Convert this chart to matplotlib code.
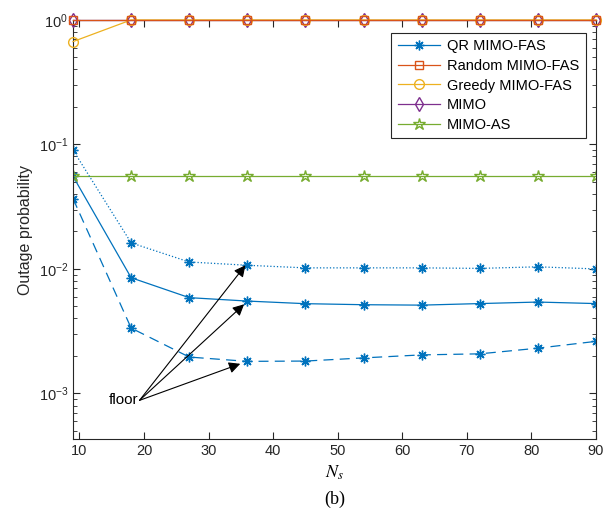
import numpy as np
import matplotlib
matplotlib.use("Agg")
import matplotlib.pyplot as plt

plt.rcParams['font.family'] = ['Liberation Sans', 'DejaVu Sans']
plt.rcParams['mathtext.fontset'] = 'stix'

# data
Ns = [9, 18, 27, 36, 45, 54, 63, 72, 81, 90]
qr_solid = [0.0555, 0.0085, 0.00588, 0.00552, 0.00526, 0.00516, 0.00512, 0.00527, 0.00542, 0.00527]
qr_dotted = [0.090, 0.0162, 0.01137, 0.0107, 0.0102, 0.0102, 0.0102, 0.0101, 0.0104, 0.0100]
qr_dashed = [0.0367, 0.00335, 0.00196, 0.00181, 0.00182, 0.00193, 0.00204, 0.00208, 0.00231, 0.00262]
random_fas = [1, 1, 1, 1, 1, 1, 1, 1, 1, 1]
greedy_fas = [0.67, 1, 1, 1, 1, 1, 1, 1, 1, 1]
mimo = [1, 1, 1, 1, 1, 1, 1, 1, 1, 1]
mimo_as = [0.0555] * 10

blue = '#0072BD'
red = '#D95319'
yellow = '#EDB120'
purple = '#7E2F8E'
green = '#77AC30'
ast = (8, 2, 0)

fig = plt.figure(figsize=(6.05, 5.19), dpi=100)
ax = fig.add_axes([0.1207, 0.154, 0.8644, 0.8076])

lw = 0.9
ax.plot(Ns, qr_solid, color=blue, marker=ast, ms=7, lw=lw, label='QR MIMO-FAS')
ax.plot(Ns, random_fas, color=red, marker='s', ms=6, mfc='none', lw=lw,
        label='Random MIMO-FAS', clip_on=False, zorder=4)
ax.plot(Ns, greedy_fas, color=yellow, marker='o', ms=7, mfc='none', lw=lw,
        label='Greedy MIMO-FAS', clip_on=False, zorder=3.5)
ax.plot(Ns, mimo, color=purple, marker='d', ms=7, mfc='none', lw=lw,
        label='MIMO', clip_on=False, zorder=3)
ax.plot(Ns, mimo_as, color=green, marker='*', ms=9, mfc='none', lw=lw, label='MIMO-AS')
ax.plot(Ns, qr_dotted, color=blue, marker=ast, ms=7, lw=lw, ls=':')
ax.plot(Ns, qr_dashed, color=blue, marker=ast, ms=7, lw=lw, ls=(0, (8, 5)))

ax.set_yscale('log')
ax.set_xlim(9, 90)
ax.set_ylim(4.3e-4, 1)
ax.set_xticks([10, 20, 30, 40, 50, 60, 70, 80, 90])
ax.tick_params(which='both', direction='in', top=True, right=True, colors='#262626', labelsize=10.5)
ax.tick_params(which='major', length=5)
ax.tick_params(which='minor', length=3)
for s in ax.spines.values():
    s.set_color('#262626')
    s.set_linewidth(0.8)

ax.set_ylabel('Outage probability', fontsize=11.5, color='#262626')
ax.set_xlabel('$N_s$', fontsize=13)

leg = ax.legend(loc='upper right', bbox_to_anchor=(0.981, 0.969), borderaxespad=0,
                fontsize=10.5, fancybox=False, edgecolor='#262626', framealpha=1,
                handlelength=2.9, handletextpad=0.5, borderpad=0.45, labelspacing=0.38)
leg.get_frame().set_linewidth(0.8)

# "floor" arrows
start = (19.3, 8.8e-4)
tips = [(35.7, 0.0107), (35.5, 0.0052), (34.9, 0.00173)]
for t in tips:
    ax.annotate('', xy=t, xytext=start,
                arrowprops=dict(arrowstyle='-|>', color='black', lw=0.8,
                                mutation_scale=17, shrinkA=0, shrinkB=0))
ax.text(19.1, 8.8e-4, 'floor', ha='right', va='center', fontsize=11)

fig.text(0.553, 0.022, '(b)', ha='center', va='bottom', fontsize=13, family='Liberation Serif')

fig.savefig('out.png', dpi=100)
